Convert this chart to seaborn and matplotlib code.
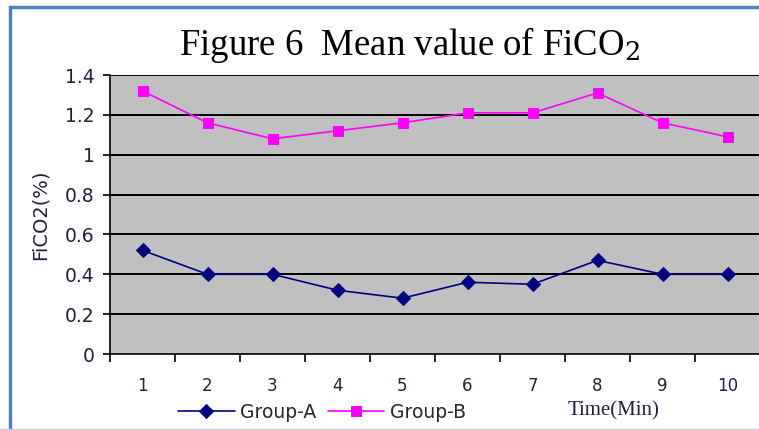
import matplotlib
matplotlib.use("Agg")
import matplotlib.pyplot as plt
import matplotlib.patches as mpatches
import seaborn as sns
import pandas as pd
import numpy as np

time_min = [1, 2, 3, 4, 5, 6, 7, 8, 9, 10]
group_a = [0.52, 0.40, 0.40, 0.32, 0.28, 0.36, 0.35, 0.47, 0.40, 0.40]
group_b = [1.32, 1.16, 1.08, 1.12, 1.16, 1.21, 1.21, 1.31, 1.16, 1.09]
y_ticks = [0, 0.2, 0.4, 0.6, 0.8, 1, 1.2, 1.4]
y_tick_labels = ["0", "0.2", "0.4", "0.6", "0.8", "1", "1.2", "1.4"]

sns.set_style("white")
plt.rcParams["font.family"] = ["DejaVu Sans"]

df = pd.DataFrame({
    "Time": time_min * 2,
    "Value": group_a + group_b,
    "Group": ["Group-A"] * len(time_min) + ["Group-B"] * len(time_min),
})
df["pos"] = df["Time"] - 1

fig = plt.figure(figsize=(7.59, 4.30), dpi=100)
fig.patch.set_facecolor("white")
ax = fig.add_axes([110 / 759, 1 - 354 / 430, 650 / 759, (354 - 75) / 430])
ax.set_facecolor("#C0C0C0")

palette = {"Group-A": "#000080", "Group-B": "#FF00FF"}
markers = {"Group-A": "D", "Group-B": "s"}
sizes = {"Group-A": 7, "Group-B": 8}
for g in ["Group-A", "Group-B"]:
    sub = df[df["Group"] == g]
    sns.lineplot(data=sub, x="pos", y="Value", ax=ax, color=palette[g],
                 marker=markers[g], markersize=sizes[g], markeredgecolor=palette[g],
                 linewidth=1.2, label=g, legend=False, zorder=5)

ax.set_xlim(-0.5, 9.5)
ax.set_ylim(0, 1.4)
ax.set_yticks(y_ticks)
ax.set_yticklabels(y_tick_labels)
ax.set_xticks(np.arange(-0.5, 9.5, 1))
ax.set_xticklabels([])
for y in y_ticks[1:]:
    ax.axhline(y, color="black", linewidth=1.4, zorder=1)

for spine in ["top", "right"]:
    ax.spines[spine].set_visible(False)
for spine in ["left", "bottom"]:
    ax.spines[spine].set_color("black")
    ax.spines[spine].set_linewidth(1.2)
ax.tick_params(axis="both", direction="out", length=5, width=1.2, colors="black",
               labelsize=13.5, labelcolor="#202040", pad=4)
ax.tick_params(axis="y", pad=6, left=True)
ax.tick_params(axis="x", bottom=True, length=6)

# category labels below the axis
for i, t in enumerate(time_min):
    ax.text(i, -0.16, str(t), ha="center", va="center", fontsize=12,
            color="#202040", transform=ax.transData, clip_on=False)

ax.set_xlabel("")
ax.set_ylabel("")
fig.text(40 / 759, 1 - 215 / 430, "FiCO2(%)", rotation=90, ha="center", va="center",
         fontsize=14, color="#202040")

fig.text(410 / 759, 1 - 45 / 430, "Figure 6  Mean value of FiCO$_2$", ha="center",
         va="center", fontsize=26.5, family="Liberation Serif", color="black",
         math_fontfamily="dejavuserif")

fig.text(614 / 759, 1 - 411 / 430, "Time(Min)", ha="center", va="center",
         fontsize=15, family="Liberation Serif", color="#202040")

handles, labels = ax.get_legend_handles_labels()
for h in handles:
    h.set_markersize(7)
fig.legend(handles, labels, loc="center", bbox_to_anchor=(322 / 759, 1 - 412 / 430),
           ncol=2, frameon=False, fontsize=13.5, handlelength=3.0, columnspacing=0.6,
           handletextpad=0.3, borderaxespad=0)

# blue frame
fig.add_artist(mpatches.Rectangle((10 / 759, -0.01), 1.2, 1 - 7 / 430 + 0.01,
                                  transform=fig.transFigure, fill=False,
                                  edgecolor="#4F81BD", linewidth=2.5))
fig.add_artist(plt.Line2D([0, 1], [1 / 430, 1 / 430], transform=fig.transFigure,
                          color="#C8D0E0", linewidth=1))

fig.savefig("out.png", dpi=100)
